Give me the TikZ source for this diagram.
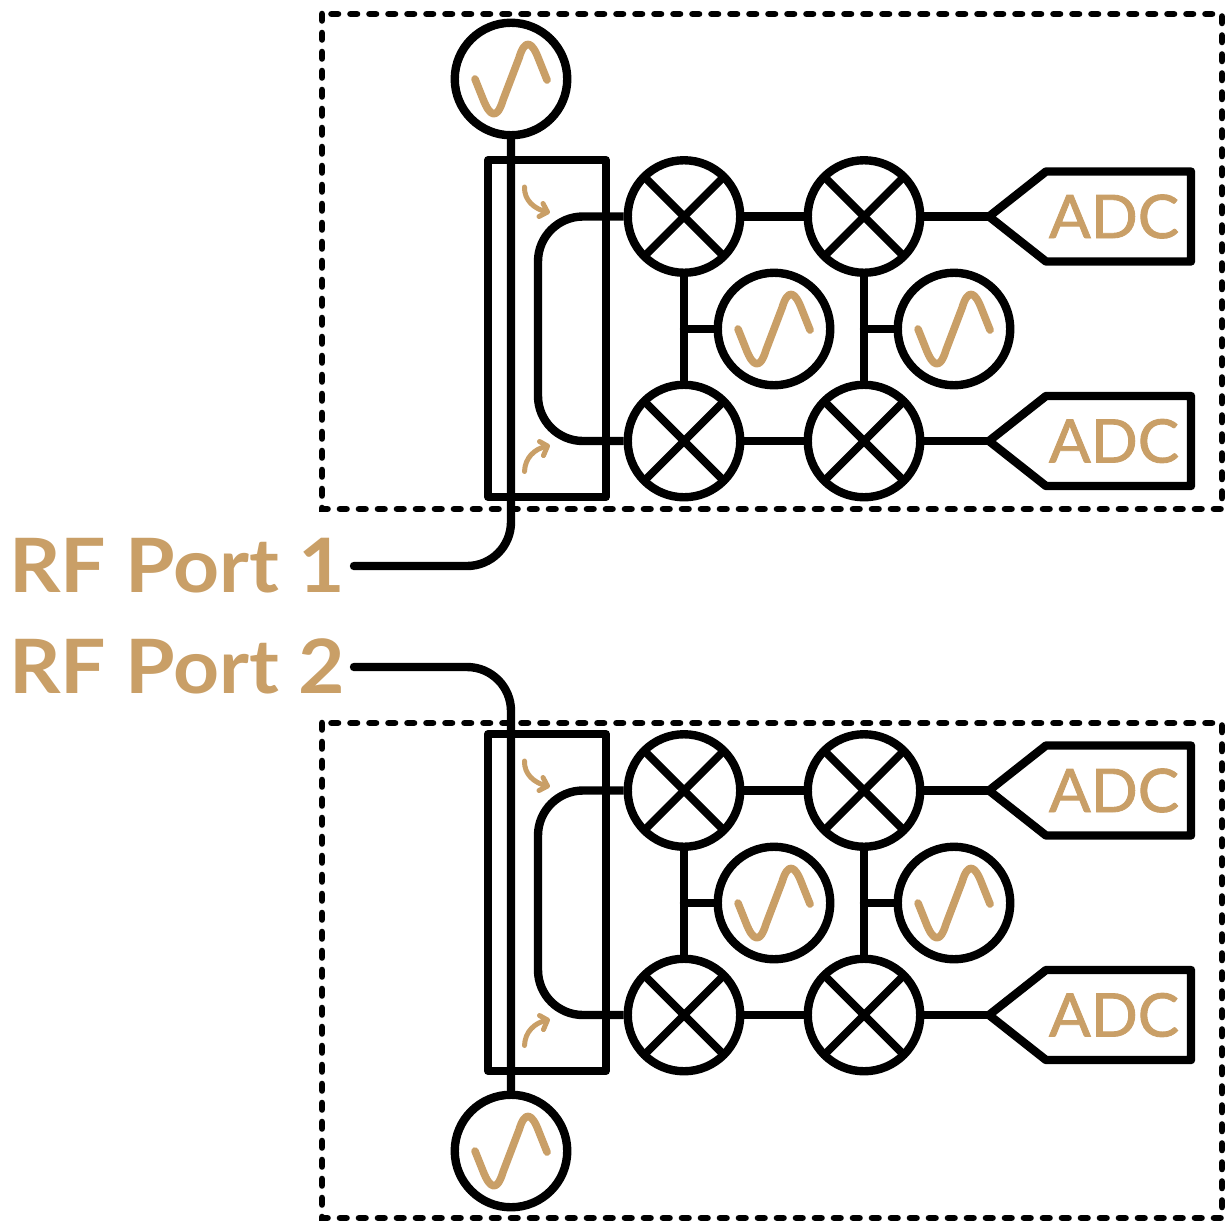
\documentclass[tikz,border=0pt]{standalone}
\usepackage{fontspec}
\setmainfont{Lato}
\newfontfamily\rffont{Lato}[UprightFont=* Bold,FakeStretch=1.07]
\newfontfamily\adcfont{Lato}[FakeBold=1.5,FakeStretch=1.03]
\definecolor{tan}{HTML}{C99F67}
\tikzset{
  x=1pt,y=-1pt,
  wire/.style={line width=8.4pt,draw=black,line cap=round,line join=round},
  roundel/.style={circle,draw=black,line width=8.4pt,minimum size=112.5pt,inner sep=0pt},
  frameline/.style={line width=6.6pt,draw=black,line cap=round,dash pattern=on 6.5pt off 12.5pt},
  wave/.style={line width=7.6pt,draw=tan,line cap=round,line join=round},
  flow/.style={line width=5pt,draw=tan,line cap=round,line join=round},
  adclabel/.style={text=tan,font=\adcfont\fontsize{60}{60}\selectfont,inner sep=0pt},
  portlabel/.style={text=tan,font=\rffont\fontsize{75}{75}\selectfont,inner sep=0pt,anchor=base west},
}
\newcommand{\sinewave}[1]{%
  \draw[wave] ([shift={(-36,0)}]#1.center) -- ([shift={(-28,20)}]#1.center)
    .. controls ([shift={(-21,38)}]#1.center) and ([shift={(-14,41)}]#1.center) .. ([shift={(-8,21)}]#1.center)
    -- ([shift={(8,-21)}]#1.center)
    .. controls ([shift={(14,-41)}]#1.center) and ([shift={(21,-38)}]#1.center) .. ([shift={(28,-19)}]#1.center)
    -- ([shift={(36,1)}]#1.center);}
\newcommand{\mixer}[3]{%
  \node[roundel] (#1) at (#2,#3) {};
  \draw[wire,line cap=butt,line width=7.8pt] ([shift={(-40,-40)}]#1.center) -- ([shift={(40,40)}]#1.center);
  \draw[wire,line cap=butt,line width=7.8pt] ([shift={(40,-40)}]#1.center) -- ([shift={(-40,40)}]#1.center);}
\newcommand{\adcblock}[3]{%
  \coordinate (#1tip) at (#2,#3);
  \node[adclabel] (#1) at (1114,#3) {ADC};
  \draw[wire] (#1tip) -- ++(57,-45) -- ++(145,0) -- ++(0,90) -- ++(-145,0) -- cycle;}
\newcommand{\receiver}{%
  \node[draw=black,line width=8.4pt,minimum width=117.5pt,minimum height=337pt,inner sep=0pt,outer sep=0pt,line join=round] (coupler) at (547,328.5) {};
  \mixer{m1}{684}{216.5}
  \mixer{m2}{864}{216.5}
  \mixer{m3}{684}{441}
  \mixer{m4}{864}{441}
  \node[roundel] (o1) at (774,329) {};
  \node[roundel] (o2) at (954,329) {};
  \sinewave{o1}
  \sinewave{o2}
  \adcblock{a1}{989}{216.5}
  \adcblock{a2}{989}{441}
  \draw[wire] (m1) -- (m2);
  \draw[wire] (m3) -- (m4);
  \draw[wire] (m1) -- (m3);
  \draw[wire] (m2) -- (m4);
  \draw[wire] (684,329) -- (o1);
  \draw[wire] (864,329) -- (o2);
  \draw[wire] (m2) -- (a1tip);
  \draw[wire] (m4) -- (a2tip);
  \draw[wire,rounded corners=45pt,line cap=butt] (m1.west) -- (538,216.5) -- (538,441) -- (m3.west);
  \draw[flow] (524.5,187) .. controls (524,200) and (534,209) .. (547,212);
  \draw[flow] (543,203.5) -- (547.5,212) -- (539,216.5);
  \draw[flow] (524.5,471.5) .. controls (525,458) and (534,449) .. (547,446);
  \draw[flow] (539.5,441.5) -- (547.5,446) -- (543.5,455.5);
}
\begin{document}
\begin{tikzpicture}
\useasboundingbox (0,0) rectangle (1225,1221);
\coordinate (f1a) at (322,14); \coordinate (f1b) at (1222,509);
\coordinate (f2a) at (322,723); \coordinate (f2b) at (1222,1218);
\draw[frameline] (f1a) rectangle (f1b);
\draw[frameline] (f2a) rectangle (f2b);
\begin{scope}[name prefix=u-]
\receiver
\end{scope}
\begin{scope}[name prefix=l-,shift={(0,574)}]
\receiver
\end{scope}
\node[roundel] (lo1) at (511,79) {};
\node[roundel] (lo2) at (511,1151) {};
\sinewave{lo1}
\sinewave{lo2}
\node[portlabel] (p1) at (9,592) {RF Port 1};
\node[portlabel] (p2) at (9,693) {RF Port 2};
\coordinate (p1e) at (354,566);
\coordinate (p2e) at (354,667);
\draw[wire,rounded corners=44pt] (lo1.south) -- (511,566) -- (p1e);
\draw[wire,rounded corners=44pt] (p2e) -- (511,667) -- (lo2.north);
\end{tikzpicture}
\end{document}
